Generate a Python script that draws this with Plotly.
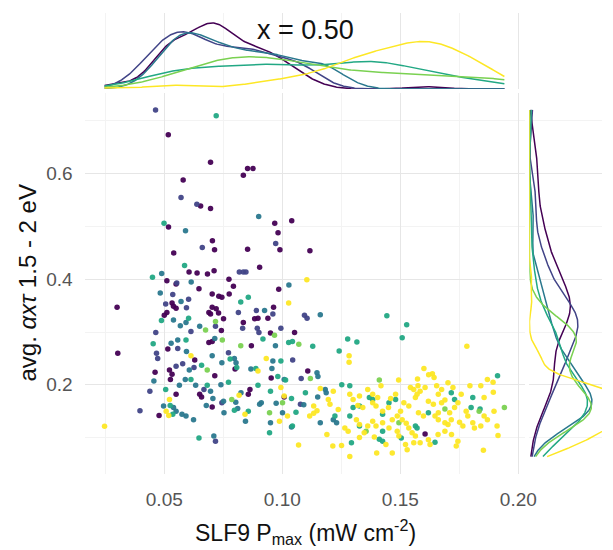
import numpy as np
import plotly.graph_objects as go

# ---------------- data ----------------
g1_x = [0.0517,0.0696,0.0835,0.0853,0.0876,0.0580,0.0654,0.0696,0.0518,0.0968,0.1040,0.0982,0.0990,0.0704,0.0713,0.0540,0.0853,0.0605,0.0639,0.0683,0.0711,0.0904,0.0511,0.0774,0.0793,0.1117,
        0.0300,0.0303,0.0550,0.0647,0.0703,0.0731,0.0744,0.0775,0.0985,0.0533,0.0539,0.0550,0.0511,0.0500,0.0703,0.0720,0.0730,0.0689,0.0696,0.0751,0.0963,0.0883,0.0897,0.0939,0.0835,0.0742,0.0950,0.0689,0.0703,0.0869,0.0515,0.0629,0.0522,0.0714,0.0800,0.0953,0.0461,0.0526,0.0533,0.0550,0.0650,0.0658,0.0856,0.0863,0.0703,0.0478,
        0.1052,0.1108,0.1008,0.1605]
g1_y = [0.674,0.622,0.597,0.610,0.610,0.588,0.539,0.534,0.499,0.506,0.511,0.488,0.456,0.473,0.456,0.450,0.457,0.414,0.412,0.410,0.416,0.423,0.397,0.400,0.387,0.454,
        0.347,0.260,0.391,0.382,0.372,0.368,0.366,0.372,0.381,0.355,0.349,0.345,0.337,0.332,0.347,0.344,0.336,0.337,0.334,0.325,0.347,0.325,0.326,0.326,0.318,0.303,0.298,0.280,0.282,0.274,0.268,0.247,0.228,0.217,0.230,0.213,0.224,0.210,0.220,0.182,0.182,0.177,0.182,0.191,0.158,0.142,
        0.299,0.226,0.177,0.107]

g2_x = [0.0463,0.0571,0.0638,0.0972,0.0661,0.0818,0.0835,0.0846,0.0553,
        0.0536,0.0506,0.0603,0.0594,0.0814,0.0890,0.0960,0.0464,0.0613,0.0717,0.0832,0.0894,0.0901,0.0994,0.0557,0.0467,0.0472,0.0626,0.0578,0.0550,0.0772,
        0.0668,0.0744,0.0717,0.0439,0.0397,0.1077,
        0.1094,0.1105,0.1044,0.1080]
g2_y = [0.721,0.555,0.542,0.468,0.460,0.414,0.414,0.414,0.393,
        0.371,0.353,0.362,0.346,0.337,0.341,0.334,0.299,0.301,0.311,0.307,0.307,0.299,0.307,0.269,0.260,0.250,0.233,0.240,0.235,0.261,
        0.191,0.166,0.093,0.188,0.151,0.163,
        0.332,0.326,0.247,0.212]

g3_x = [0.0900,0.0590,0.0489,0.0614,0.1028,
        0.0483,0.0571,0.0925,0.0539,0.0592,0.0568,0.0650,0.0714,0.0971,0.0529,0.0557,0.0594,0.0606,0.0703,0.0744,0.0797,0.0804,0.0867,0.0960,0.0956,0.1008,0.0456,0.0564,0.0589,0.0633,0.0706,0.0740,0.0825,0.0911,0.0678,0.0497,0.0539,0.0550,0.0575,0.0710,0.0753,0.0844,0.0904,0.0950,0.1001,
        0.0696,0.0803,0.0974,0.0751,0.0592,0.0624,0.0811,0.1091,
        0.1161,0.1147,0.1151,0.1186,0.1182,0.1150,0.1039,0.1161,0.1216,0.1230]
g3_y = [0.519,0.492,0.411,0.395,0.389,
        0.374,0.358,0.341,0.323,0.318,0.312,0.311,0.288,0.274,0.279,0.285,0.263,0.228,0.255,0.242,0.250,0.242,0.230,0.245,0.231,0.210,0.207,0.199,0.210,0.199,0.174,0.200,0.185,0.166,0.161,0.160,0.157,0.150,0.144,0.103,0.147,0.131,0.163,0.128,0.147,
        0.188,0.167,0.165,0.169,0.141,0.134,0.155,0.162,
        0.333,0.223,0.216,0.185,0.191,0.177,0.120,0.128,0.134,0.128]

g4_x = [0.0720,0.0499,0.0586,0.0450,
        0.0856,0.0824,0.0488,0.0603,0.0918,0.1043,0.0453,0.0592,0.0658,0.0779,0.0807,0.0888,0.0994,0.0981,0.0506,0.0613,0.0682,0.0772,0.0897,0.0950,0.0525,0.0536,0.0647,0.0797,0.0856,0.0946,0.1043,
        0.1443,0.1527,0.1027,0.1129,0.1241,0.1014,0.1912,0.1286,0.1039,0.1098,0.1058,0.1223,0.1293,0.1504,0.1647,0.1564,0.1571,0.1800,0.1425,0.1480,
        0.1508,0.1277,0.1316,0.1252,0.1411,0.1425,0.1619,0.1716,0.1327,0.1369,0.1383,0.1452,0.1300,0.1730,0.1327,0.1425,0.1286,0.1807,0.1838]
g4_y = [0.710,0.506,0.426,0.404,
        0.366,0.357,0.322,0.326,0.287,0.282,0.278,0.285,0.237,0.249,0.233,0.231,0.245,0.216,0.191,0.210,0.199,0.205,0.199,0.188,0.161,0.144,0.099,0.152,0.150,0.109,0.122,
        0.331,0.314,0.280,0.273,0.264,0.209,0.217,0.198,0.174,0.185,0.148,0.141,0.090,0.099,0.091,0.122,0.118,0.157,0.144,0.172,
        0.289,0.287,0.281,0.200,0.097,0.093,0.147,0.185,0.160,0.176,0.172,0.166,0.157,0.172,0.122,0.112,0.141,0.176,0.154]

g5_x = [0.0717,0.0675,0.0746,0.0824,0.0682,0.0786,0.1001,0.0946,0.0967,0.1070,0.1119,0.1411,0.1355,0.1834,0.1941,0.1689,0.1494]
g5_y = [0.320,0.304,0.285,0.274,0.228,0.172,0.166,0.147,0.294,0.277,0.212,0.209,0.112,0.150,0.157,0.154,0.128]

g6_x = [0.0247,0.0508,0.0519,0.0522,0.0613,0.0817,0.0842,0.0897,0.0932,0.0994,0.1008,0.0988,0.1104,
        0.1027,0.1283,0.1283,0.1600,0.1636,0.1620,0.1643,0.1782,0.1893,0.1795,0.1493,0.1573,0.1543,0.1557,0.1575,0.1584,0.1571,0.1564,0.1480,0.1459,0.1362,0.1418,0.1161,0.1133,0.1116,0.1133,0.1147,0.1022,0.1237,0.1341,0.1320,0.1383,0.1397,0.1425,0.1450,0.1515,0.1536,0.1619,0.1640,0.1675,0.1689,0.1730,0.1744,0.1709,0.1855,0.1894,0.1779,0.1807,0.1841,0.1814,0.1765,0.1751,0.1689,0.1661,0.1910,0.1914,0.1852,
        0.1189,0.1069,0.1214,0.1251,0.1286,0.1327,0.1347,0.1390,0.1400,0.1466,0.1439,0.1522,0.1557,0.1529,0.1494,0.1487,0.1536,0.1525,0.1550,0.1564,0.1584,0.1619,0.1626,0.1660,0.1689,0.1717,0.1744,0.1737,0.1362,0.1383,0.1397,0.1314,0.1327,0.1265,0.1279,0.1425,0.1452,0.1466,0.1487,0.1501,0.1508,0.1577,0.1598,0.1647,0.1661,0.1716,0.1702,0.1786,0.1869,0.1855,0.1897,0.1654,0.1675,0.1605,0.1702,0.1723,0.1661,0.1841,0.1869,0.1758,0.1286,0.1300,0.1327,0.1383,0.1404,0.1216,0.1195,0.1202]
g6_y = [0.1215,0.150,0.142,0.172,0.255,0.180,0.144,0.226,0.250,0.195,0.179,0.131,0.399,
        0.355,0.255,0.243,0.231,0.221,0.219,0.214,0.273,0.205,0.198,0.209,0.211,0.195,0.191,0.198,0.188,0.182,0.176,0.182,0.174,0.191,0.198,0.193,0.160,0.141,0.146,0.151,0.141,0.153,0.157,0.161,0.166,0.160,0.150,0.157,0.166,0.160,0.169,0.163,0.166,0.171,0.157,0.166,0.147,0.176,0.186,0.150,0.128,0.122,0.118,0.122,0.129,0.128,0.134,0.122,0.104,0.076,
        0.106,0.086,0.084,0.085,0.064,0.100,0.109,0.101,0.071,0.071,0.087,0.087,0.090,0.077,0.103,0.112,0.118,0.127,0.109,0.103,0.090,0.096,0.087,0.106,0.112,0.106,0.093,0.084,0.122,0.131,0.122,0.134,0.125,0.118,0.112,0.128,0.118,0.134,0.141,0.150,0.134,0.147,0.141,0.141,0.147,0.134,0.125,0.141,0.134,0.141,0.150,0.198,0.191,0.195,0.204,0.195,0.182,0.198,0.210,0.182,0.182,0.172,0.179,0.182,0.176,0.188,0.172,0.163]

groups_x = [g1_x, g2_x, g3_x, g4_x, g5_x, g6_x]
groups_y = [g1_y, g2_y, g3_y, g4_y, g5_y, g6_y]
colors = ["#440154", "#414487", "#2A788E", "#22A884", "#7AD151", "#FDE725"]

title_text = "x = 0.50"
x_title = "SLF9 P<sub>max</sub> (mW cm<sup>-2</sup>)"
y_title = "avg. <i>αxτ</i> 1.5 - 2 eV"

# ---------------- helpers ----------------
def kde(vals, grid):
    v = np.asarray(vals, float)
    n = len(v)
    sd = v.std(ddof=1)
    q75, q25 = np.percentile(v, [75, 25])
    bw = 0.9 * min(sd, (q75 - q25) / 1.34) * n ** -0.2
    z = (grid[:, None] - v[None, :]) / bw
    return np.exp(-0.5 * z ** 2).sum(1) / (n * bw * np.sqrt(2 * np.pi))

all_x = np.concatenate([np.asarray(g) for g in groups_x])
all_y = np.concatenate([np.asarray(g) for g in groups_y])
gx = np.linspace(all_x.min(), all_x.max(), 400)
gy = np.linspace(all_y.min(), all_y.max(), 400)

W, H = 613, 550
FONT = "Liberation Sans, Arial, sans-serif"

def fx(px):
    return px / W

def fy(py):
    return 1 - py / H

fig = go.Figure()

dens_x = []
dens_y = []
for xs, ys, c in zip(groups_x, groups_y, colors):
    fig.add_trace(go.Scatter(x=xs, y=ys, mode="markers",
                             marker=dict(color=c, size=5.5, opacity=0.95, line=dict(width=0)),
                             xaxis="x", yaxis="y", showlegend=False, hoverinfo="skip"))
for xs, ys, c in zip(groups_x, groups_y, colors):
    dx = kde(xs, gx)
    dy = kde(ys, gy)
    dens_x.append(dx.max())
    dens_y.append(dy.max())
    fig.add_trace(go.Scatter(x=gx, y=dx, mode="lines", line=dict(color=c, width=1.5),
                             xaxis="x", yaxis="y2", showlegend=False, hoverinfo="skip"))
    fig.add_trace(go.Scatter(x=dy, y=gy, mode="lines", line=dict(color=c, width=1.5),
                             xaxis="x3", yaxis="y", showlegend=False, hoverinfo="skip"))

Mx = max(dens_x)
My = max(dens_y)

grid_major = "#e6e6e6"
grid_minor = "#f3f3f3"
tickfont = dict(family=FONT, size=19, color="#555555")

fig.update_layout(
    width=W, height=H,
    margin=dict(l=0, r=0, t=0, b=0),
    paper_bgcolor="white", plot_bgcolor="white",
    showlegend=False,
    xaxis=dict(domain=[fx(87), fx(535)], range=[0.0166, 0.2030], tick0=0, dtick=0.05,
               tickformat=".2f", showgrid=True, gridcolor=grid_major, gridwidth=1.2,
               minor=dict(dtick=0.025, tick0=0, showgrid=True, gridcolor=grid_minor, gridwidth=0.8),
               zeroline=False, showline=False, ticks="outside", ticklen=8,
               tickcolor="rgba(0,0,0,0)", tickfont=tickfont, anchor="y"),
    yaxis=dict(domain=[fy(474), fy(93)], range=[0.031, 0.753], tick0=0, dtick=0.2,
               tickformat=".1f", showgrid=True, gridcolor=grid_major, gridwidth=1.2,
               minor=dict(dtick=0.1, tick0=0, showgrid=True, gridcolor=grid_minor, gridwidth=0.8),
               zeroline=False, showline=False, ticks="outside", ticklen=8,
               tickcolor="rgba(0,0,0,0)", tickfont=tickfont, anchor="x"),
    yaxis2=dict(domain=[fy(89), fy(13)], range=[0, Mx * 1.15], visible=False, anchor="x"),
    xaxis3=dict(domain=[fx(539), 1.0], range=[0, My * 0.76], visible=False, anchor="y"),
)

fig.add_annotation(text=title_text, x=fx(311), y=fy(30), xref="paper", yref="paper",
                   showarrow=False, xanchor="center", yanchor="middle",
                   font=dict(family=FONT, size=27, color="#111111"))
fig.add_annotation(text=x_title, x=fx(311), y=fy(532), xref="paper", yref="paper",
                   showarrow=False, xanchor="center", yanchor="middle",
                   font=dict(family=FONT, size=23, color="#111111"))
fig.add_annotation(text=y_title, x=fx(28), y=fy(283), xref="paper", yref="paper",
                   showarrow=False, xanchor="center", yanchor="middle", textangle=-90,
                   font=dict(family=FONT, size=24, color="#111111"))

fig.write_html("out.html", config={"displayModeBar": False},
               post_script="document.body.style.margin='0';document.body.style.overflow='hidden';")
